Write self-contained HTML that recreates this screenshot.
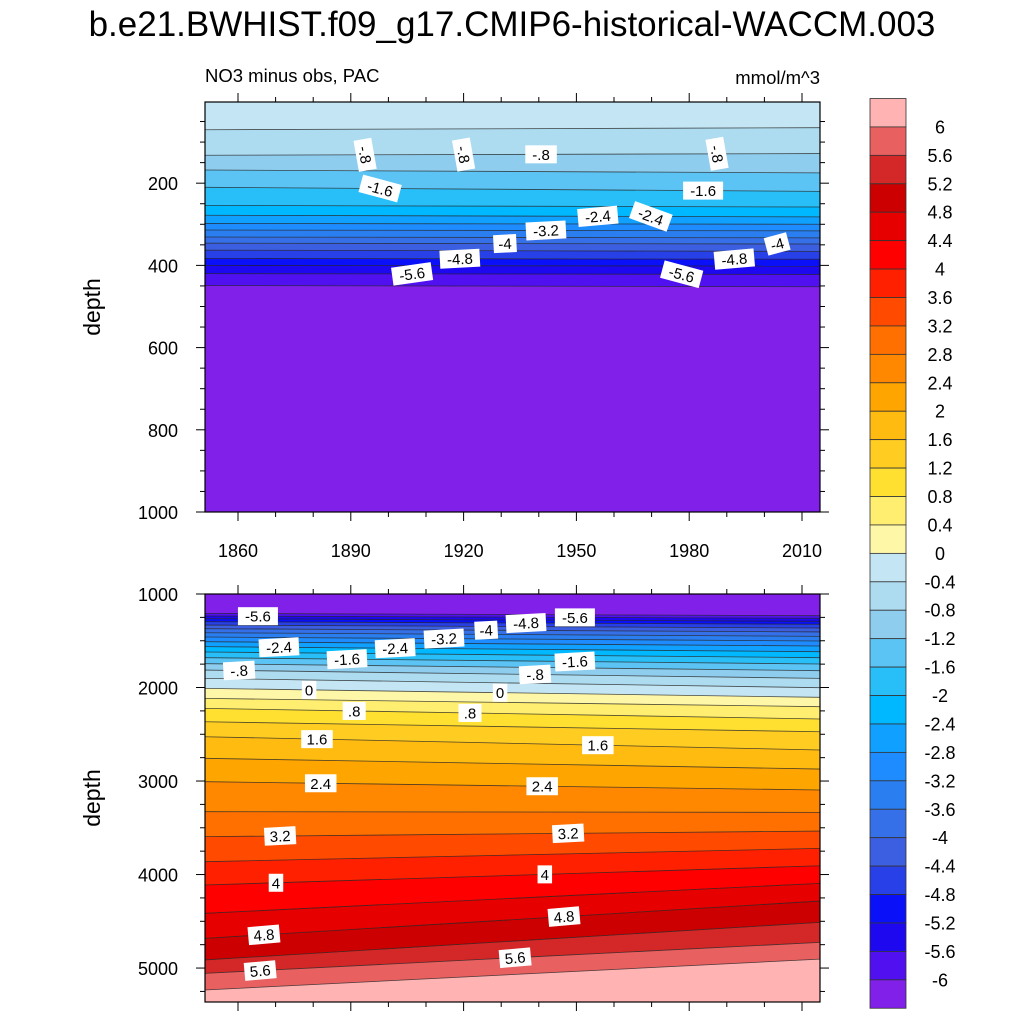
<!DOCTYPE html>
<html><head><meta charset="utf-8"><style>
html,body{margin:0;padding:0;background:#fff;overflow:hidden;width:1024px;height:1024px;}
svg{display:block;}
svg text{font-family:"Liberation Sans",Arial,sans-serif;}
</style></head><body>
<svg id="c" width="1024" height="1024" viewBox="0 0 1024 1024" xmlns="http://www.w3.org/2000/svg" overflow="hidden">
<rect width="1024" height="1024" fill="#fff"/>
<text x="512" y="36" font-size="35" text-anchor="middle">b.e21.BWHIST.f09_g17.CMIP6-historical-WACCM.003</text>
<text x="205" y="82" font-size="18.5">NO3 minus obs, PAC</text>
<text x="820" y="84" font-size="18.5" text-anchor="end">mmol/m^3</text>
<g id="top"></g><g id="bot"></g><g id="cb"></g>
</svg>
<script>
const levels=[-6,-5.6,-5.2,-4.8,-4.4,-4,-3.6,-3.2,-2.8,-2.4,-2,-1.6,-1.2,-0.8,-0.4,0,0.4,0.8,1.2,1.6,2,2.4,2.8,3.2,3.6,4,4.4,4.8,5.2,5.6,6];
const colors=["#8020E8","#5010F0","#1E08F0","#0A10F8","#2840E8","#3C5EE0","#3570E8","#2A7EF0","#1E8CFF","#10A0FF","#00B8FF","#28BFF8","#5BC4F4","#8ECDEE","#ADDCF0","#C4E6F4","#FFF7A8","#FFEE70","#FFE030","#FFCC22","#FFBB10","#FFA500","#FF8800","#FF7000","#FF4A00","#FF2000","#FF0000","#E60000","#CC0000","#D42828","#E86060","#FFB3B3"];
// contour depths (m) per level, at first and last model year
const topDepthStart=[449,420,400,383,363,346,331,314,298,278,254,210,168,132,70,-10,-20,-30,-40,-50,-60,-70,-80,-90,-100,-110,-120,-130,-140,-150,-160];
const topDepthEnd=[452,422,402,385,366,348,333,316,300,282,258,220,175,128,65,-10,-20,-30,-40,-50,-60,-70,-80,-90,-100,-110,-120,-130,-140,-150,-160];
const botDepthStart=[1207,1235,1264,1296,1332,1371,1414,1460,1510,1563,1620,1681,1745,1813,1902,2009,2116,2223,2366,2526,2757,3007,3328,3595,3863,4112,4415,4683,4914,5057,5235];
const botDepthEnd=[1232,1260,1292,1324,1364,1406,1453,1503,1556,1617,1681,1749,1820,1902,2002,2105,2205,2337,2473,2668,2872,3096,3335,3535,3720,3906,4094,4283,4511,4725,4904];
const yearStart=1851, yearEnd=2015;
const xTicks=[1860,1890,1920,1950,1980,2010];
const topYTicks=[200,400,600,800,1000];
const botYTicks=[1000,2000,3000,4000,5000];
const topLabelLevel=[-0.8,-0.8,-0.8,-0.8,-1.6,-1.6,-2.4,-2.4,-3.2,-4,-4.8,-5.6,-5.6,-4.8,-4];
const topLabelYear=[1893.8,1920,1940.6,1987.4,1897.8,1983.7,1955.7,1969.8,1941.9,1931,1919,1906.3,1978,1992,2003.4];
const topLabelRot=[80,80,0,80,15,0,-5,20,-3,-3,-3,-8,15,-5,-15];
const botLabelLevel=[-5.6,-5.6,-4.8,-4,-3.2,-2.4,-2.4,-1.6,-1.6,-0.8,-0.8,0,0,0.8,0.8,1.6,1.6,2.4,2.4,3.2,3.2,4,4,4.8,4.8,5.6,5.6];
const botLabelYear=[1865.3,1949.6,1936.6,1926,1914.8,1870.9,1901.8,1889,1949.6,1860.3,1939,1878.9,1929.7,1890.9,1921.7,1881,1955.7,1882,1940.9,1871.2,1947.8,1870.1,1941.6,1866.9,1946.7,1865.9,1933.7];
const botLabelRot=[0,0,-3,-3,-3,-3,-3,-3,-3,-3,-3,0,0,0,0,0,0,0,0,-3,-3,0,0,-5,-5,-5,-5];

const NS="http://www.w3.org/2000/svg";
function mk(tag,attrs,parent){const e=document.createElementNS(NS,tag);for(const k in attrs)e.setAttribute(k,attrs[k]);parent.appendChild(e);return e;}
const X0=205,X1=820;
function xs(yr){return 238+(yr-1860)*(802-238)/150;}
function fmt(v){let s=(Math.round(v*10)/10).toString();return s.replace("0.",".");}

function panel(g,name,y0,y1,d0,d1,dS,dE,yt,minorStep,showX,labL,labY,labR){
  const ys=d=>y0+(d-d0)*(y1-y0)/(d1-d0);
  const cl=d=>Math.max(d0,Math.min(d1,d));
  const yc=d=>ys(cl(d));
  const fg=mk("g",{},g);
  
  
  const xa=X0,xb=X1;
  const tA=(xs(yearStart)<X0)?0:0;
  // interpolate depths at panel edges (years at X0/X1)
  const yrA=1860+(X0-238)*150/(802-238), yrB=1860+(X1-238)*150/(802-238);
  const at=(i,yr)=>dS[i]+(dE[i]-dS[i])*(yr-yearStart)/(yearEnd-yearStart);
  const n=levels.length;
  for(let b=0;b<=n;b++){
    let aS,aE,bS,bE;
    if(b==0){bS=at(0,yrA);bE=at(0,yrB);const e=(dS[0]>dS[1])?d1:d0;aS=e;aE=e;}
    else if(b==n){aS=at(n-1,yrA);aE=at(n-1,yrB);const e=(dS[n-1]>dS[n-2])?d1:d0;bS=e;bE=e;}
    else{aS=at(b-1,yrA);aE=at(b-1,yrB);bS=at(b,yrA);bE=at(b,yrB);}
    const p=mk("polygon",{points:`${xa},${yc(aS)} ${xb},${yc(aE)} ${xb},${yc(bE)} ${xa},${yc(bS)}`,fill:colors[b]},fg);
    
    
  }
  for(let i=0;i<n;i++){
    const a=at(i,yrA),c=at(i,yrB);
    if((a<d0&&c<d0)||(a>d1&&c>d1))continue;
    const l=mk("line",{x1:xa,y1:yc(a),x2:xb,y2:yc(c),stroke:"#222","stroke-width":0.8,"stroke-opacity":0.8},fg);
    
    
  }
  for(let k=0;k<labL.length;k++){
    const i=levels.findIndex(v=>Math.abs(v-labL[k])<1e-6);
    const x=xs(labY[k]),y=yc(at(i,labY[k]));
    const txt=fmt(labL[k]);
    const lg=mk("g",{transform:`translate(${x},${y}) rotate(${labR[k]})`},fg);
    
    
    const w=txt.length*8.5+6;
    mk("rect",{x:-w/2,y:-9,width:w,height:18,fill:"#fff"},lg);
    const tt=mk("text",{x:0,y:5.5,"font-size":15,"text-anchor":"middle"},lg);tt.textContent=txt;
  }
  const fr=mk("rect",{x:X0,y:y0,width:X1-X0,height:y1-y0,fill:"none",stroke:"#000","stroke-width":1.2},g);
  
  
  for(let yr=1850;yr<=2015;yr+=10){
    const x=xs(yr);if(x<X0||x>X1)continue;
    const maj=xTicks.includes(yr),L=maj?9:5;
    mk("line",{x1:x,y1:y0,x2:x,y2:y0-L,stroke:"#000"},g);
    mk("line",{x1:x,y1:y1,x2:x,y2:y1+L,stroke:"#000"},g);
  }
  if(showX){xTicks.forEach(yr=>{const t=mk("text",{x:xs(yr),y:y1+45,"font-size":18,"text-anchor":"middle"},g);t.textContent=yr;
    });}
  for(let d=Math.ceil(d0/minorStep)*minorStep;d<=d1;d+=minorStep){
    const y=ys(d),maj=yt.includes(d),L=maj?9:5;
    mk("line",{x1:X0,y1:y,x2:X0-L,y2:y,stroke:"#000"},g);
    mk("line",{x1:X1,y1:y,x2:X1+L,y2:y,stroke:"#000"},g);
  }
  yt.forEach(d=>{const t=mk("text",{x:178,y:ys(d)+7,"font-size":18,"text-anchor":"end"},g);t.textContent=d;
    });
  const yl=mk("text",{x:100,y:(y0+y1)/2,"font-size":23,"text-anchor":"middle",transform:`rotate(-90 100 ${(y0+y1)/2})`},g);
  yl.textContent="depth";
  
  
}
const gt=document.getElementById("top"),gb=document.getElementById("bot");


panel(gt,"top",102,512,2.5,1000,topDepthStart,topDepthEnd,topYTicks,50,true,topLabelLevel,topLabelYear,topLabelRot);
panel(gb,"bottom",594,1002,1000,5363,botDepthStart,botDepthEnd,botYTicks,250,false,botLabelLevel,botLabelYear,botLabelRot);
const cb=document.getElementById("cb");

const cbTop=98.5,bh=28.43,nc=colors.length;
for(let b=0;b<nc;b++){
  const r=mk("rect",{x:870,y:cbTop+b*bh,width:36,height:bh,fill:colors[nc-1-b],stroke:"#333","stroke-width":0.8},cb);
  
}
for(let i=0;i<levels.length;i++){
  const v=levels[levels.length-1-i];
  const t=mk("text",{x:940,y:cbTop+(i+1)*bh+6.5,"font-size":18,"text-anchor":"middle"},cb);
  t.textContent=(Math.round(v*10)/10).toString();
  
}
</script>
</body></html>
